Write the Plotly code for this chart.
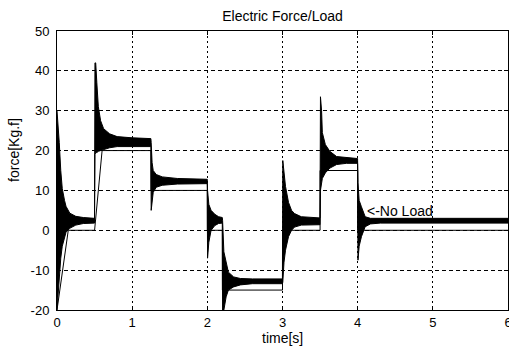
import plotly.graph_objects as go

# force envelope (oscillation band)
t_env = [0.0, 0.01, 0.03, 0.05, 0.07, 0.10, 0.12, 0.17, 0.25, 0.35, 0.499,
         0.505, 0.515, 0.53, 0.55, 0.58, 0.62, 0.70, 0.80, 1.0, 1.249,
         1.253, 1.265, 1.28, 1.32, 1.40, 1.60, 1.999,
         2.003, 2.02, 2.05, 2.10, 2.15, 2.199,
         2.203, 2.22, 2.25, 2.28, 2.35, 2.44, 2.6, 2.999,
         3.004, 3.02, 3.04, 3.08, 3.12, 3.16, 3.25, 3.499,
         3.505, 3.52, 3.53, 3.57, 3.63, 3.72, 3.85, 3.999,
         4.004, 4.02, 4.05, 4.10, 4.17, 4.30, 5.0, 6.0]
force_upper = [30, 28, 22, 15, 10.5, 7.5, 6, 4.3, 3.5, 3.2, 3.0,
               42, 42, 37, 31, 27.5, 25.5, 24.2, 23.5, 23.2, 23.0,
               22, 17, 15, 14, 13.4, 13.0, 12.8,
               10, 6.5, 5, 4, 3.4, 3.2,
               2.5, -5.4, -8.3, -10.5, -11.7, -12.1, -12.2, -12.2,
               17.5, 14, 11, 7, 5, 4.2, 3.4, 3.1,
               33.5, 30, 24.5, 21.5, 19.8, 18.5, 18.2, 18.0,
               12, 7.5, 5.9, 3.4, 3.0, 3.0, 3.0, 3.0]
force_lower = [-20, -17, -11, -7, -4, -1.5, -0.5, 0.5, 1.3, 1.7, 1.8,
               19, 19.5, 19.5, 19.8, 20, 20.3, 20.7, 21, 21, 21,
               5, 8, 9.5, 10.8, 11.3, 11.6, 11.7,
               -7, -3, 0, 1.2, 1.7, 1.8,
               -20, -20, -16.7, -15, -14.2, -13.7, -13.4, -13.4,
               -13, -8, -5, -1.6, 0, 0.8, 1.3, 1.4,
               10, 12, 13, 14.4, 15.6, 16.5, 16.8, 16.8,
               -7.5, -4, -1.6, 0.9, 1.6, 1.8, 1.8, 1.8]

# load reference
t_load = [0.0, 0.15, 0.5, 0.6, 1.25, 1.25, 2.0, 2.0, 2.2, 2.2, 3.0, 3.0, 3.5, 3.5, 4.0, 4.0, 6.0]
load = [-20, 0, 0, 20, 20, 10, 10, 0, 0, -15, -15, 0, 0, 15, 15, 0, 0]

x_ticks = [0, 1, 2, 3, 4, 5, 6]
y_ticks = [-20, -10, 0, 10, 20, 30, 40, 50]

FONT = "Liberation Sans, Arial, sans-serif"

fig = go.Figure()
fig.add_trace(go.Scatter(x=t_load, y=load, mode="lines",
                         line=dict(color="black", width=1), hoverinfo="skip"))
fig.add_trace(go.Scatter(x=t_env, y=force_lower, mode="lines",
                         line=dict(color="black", width=1), hoverinfo="skip"))
fig.add_trace(go.Scatter(x=t_env, y=force_upper, mode="lines", fill="tonexty",
                         fillcolor="black",
                         line=dict(color="black", width=1), hoverinfo="skip"))

fig.update_layout(
    width=509, height=351,
    margin=dict(l=57, r=1, t=31, b=41),
    paper_bgcolor="white", plot_bgcolor="white",
    showlegend=False,
    font=dict(family=FONT, size=13, color="black"),
    title=dict(text="Electric Force/Load", x=0.5, xref="paper", xanchor="center",
               y=1 - 16 / 351, yref="container", yanchor="middle",
               font=dict(family=FONT, size=14, color="black")),
)
fig.update_xaxes(range=[0, 6], tickvals=x_ticks, ticktext=[str(v) for v in x_ticks],
                 showgrid=True, gridcolor="black", gridwidth=1, griddash="2px,3px",
                 zeroline=False, showline=True, linecolor="black", linewidth=1,
                 mirror="ticks", ticks="inside", ticklen=4, tickcolor="black",
                 ticklabeloverflow="allow", automargin=False,
                 tickfont=dict(family=FONT, size=13, color="black"))
fig.update_yaxes(range=[-20, 50], tickvals=y_ticks, ticktext=[str(v) for v in y_ticks],
                 showgrid=True, gridcolor="black", gridwidth=1, griddash="4px,3px",
                 zeroline=False, showline=True, linecolor="black", linewidth=1,
                 mirror="ticks", ticks="inside", ticklen=4, tickcolor="black",
                 ticklabelstandoff=4, automargin=False,
                 tickfont=dict(family=FONT, size=13, color="black"))

fig.add_annotation(text="time[s]", xref="paper", yref="paper", x=0.5, y=(310 - 338) / 279,
                   xanchor="center", yanchor="middle", showarrow=False,
                   font=dict(family=FONT, size=14, color="black"))
fig.add_annotation(text="force[Kg.f]", xref="paper", yref="paper",
                   x=(14 - 57) / 450.6, y=(310 - 150) / 279, textangle=-90,
                   xanchor="center", yanchor="middle", showarrow=False,
                   font=dict(family=FONT, size=14, color="black"))
fig.add_annotation(text="<-No Load", x=4.1, y=4.9, xref="x", yref="y",
                   xanchor="left", yanchor="middle", showarrow=False,
                   bgcolor="rgba(0,0,0,0)",
                   font=dict(family=FONT, size=14, color="black"))

fig.write_html("out.html")
